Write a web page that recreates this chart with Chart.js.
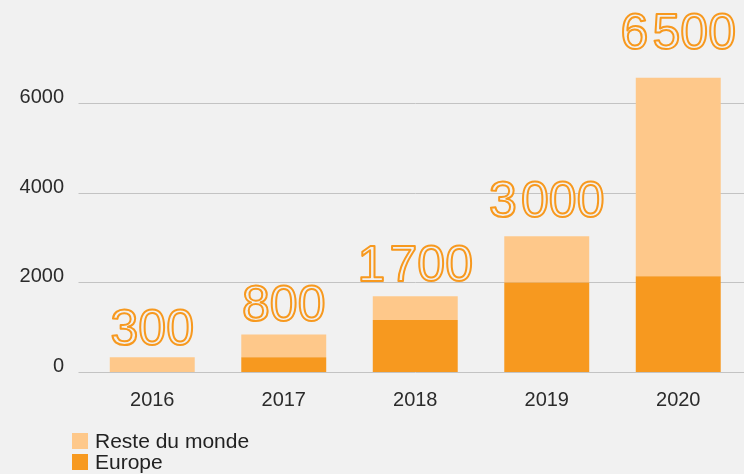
<!DOCTYPE html>
<html>
<head>
<meta charset="utf-8">
<script src="https://cdn.jsdelivr.net/npm/chart.js@4/dist/chart.umd.min.js"></script>
<style>
    html, body { margin: 0; padding: 0; background: #f1f1f1; }
    #wrap { position: relative; width: 744px; height: 474px; overflow: hidden; }
    #chart { position: absolute; left: 0; top: 0; }
    #legend { position: absolute; left: 72px; top: 429.7px; font-family: 'Liberation Sans', Arial, sans-serif; }
    .item { position: relative; height: 21.5px; line-height: 21.5px; font-size: 21px; color: #222; white-space: nowrap; }
    .box { position: absolute; left: 0; top: 3px; width: 16px; height: 16px; }
    .txt { position: absolute; left: 23px; top: 0; }
</style>
</head>
<body>
<div id="wrap">
    <canvas id="chart" width="744" height="474"></canvas>
    <div id="legend"></div>
</div>
<script>
// Data
const years = ['2016', '2017', '2018', '2019', '2020'];
const europe = [0, 340, 1170, 2010, 2150];
const resteDuMonde = [340, 510, 530, 1030, 4420];
const totalLabels = [300, 800, 1700, 3000, 6500];
const yTicks = [0, 2000, 4000, 6000];

const FONT = "'Liberation Sans', Arial, sans-serif";
const LIGHT = '#fec88a';
const DARK = '#f7991f';
const BG = '#f1f1f1';

// "6500" -> "6 500" with a hair space, like the original
function formatTotal(v) {
    if (v < 1000) return String(v);
    const rest = String(v % 1000).padStart(3, '0');
    return Math.floor(v / 1000) + '\u200A' + rest;
}

// Outlined totals above each stack
const totalsPlugin = {
    id: 'totals',
    afterDatasetsDraw(chart) {
        const ctx = chart.ctx;
        const yScale = chart.scales.y;
        const topMeta = chart.getDatasetMeta(chart.data.datasets.length - 1);
        ctx.save();
        ctx.font = '50px ' + FONT;
        ctx.textAlign = 'center';
        ctx.textBaseline = 'alphabetic';
        ctx.lineWidth = 2;
        ctx.lineJoin = 'round';
        ctx.strokeStyle = DARK;
        ctx.fillStyle = BG;
        years.forEach((y, i) => {
            const total = chart.data.datasets.reduce((s, ds) => s + ds.data[i], 0);
            const top = yScale.getPixelForValue(total);
            const gap = 11 + total * 0.0027;
            const x = topMeta.data[i].x;
            const text = formatTotal(totalLabels[i]);
            ctx.fillText(text, x, top - gap);
            ctx.strokeText(text, x, top - gap);
        });
        ctx.restore();
    }
};

const chart = new Chart(document.getElementById('chart'), {
    type: 'bar',
    data: {
        labels: years,
        datasets: [
            {
                label: 'Europe',
                data: europe,
                backgroundColor: DARK,
                categoryPercentage: 1,
                barPercentage: 0.646
            },
            {
                label: 'Reste du monde',
                data: resteDuMonde,
                backgroundColor: LIGHT,
                categoryPercentage: 1,
                barPercentage: 0.646
            }
        ]
    },
    options: {
        responsive: false,
        animation: false,
        layout: {
            padding: { top: 58.5, bottom: 53.4, left: 0, right: 0 }
        },
        plugins: {
            legend: { display: false },
            tooltip: { enabled: false }
        },
        scales: {
            x: {
                stacked: true,
                grid: { display: false },
                border: { display: false },
                ticks: {
                    color: '#2b2b2b',
                    padding: 8,
                    font: { family: FONT, size: 20 }
                }
            },
            y: {
                stacked: true,
                min: 0,
                max: 7000,
                afterBuildTicks: (axis) => {
                    axis.ticks = yTicks.map(v => ({ value: v }));
                },
                afterFit: (axis) => {
                    axis.width = 86.5;
                },
                grid: {
                    color: '#c3c3c3',
                    lineWidth: 1,
                    drawTicks: true,
                    tickLength: 8
                },
                border: { display: false },
                ticks: {
                    color: '#2b2b2b',
                    padding: 14.5,
                    labelOffset: -6,
                    font: { family: FONT, size: 20 },
                    callback: (v) => String(v)
                }
            }
        }
    },
    plugins: [totalsPlugin]
});

// Vertical legend built from the datasets, top stack first
const legend = document.getElementById('legend');
chart.data.datasets.slice().reverse().forEach(ds => {
    const item = document.createElement('div');
    item.className = 'item';
    const box = document.createElement('span');
    box.className = 'box';
    box.style.background = ds.backgroundColor;
    const txt = document.createElement('span');
    txt.className = 'txt';
    txt.textContent = ds.label;
    item.appendChild(box);
    item.appendChild(txt);
    legend.appendChild(item);
});
</script>
</body>
</html>
